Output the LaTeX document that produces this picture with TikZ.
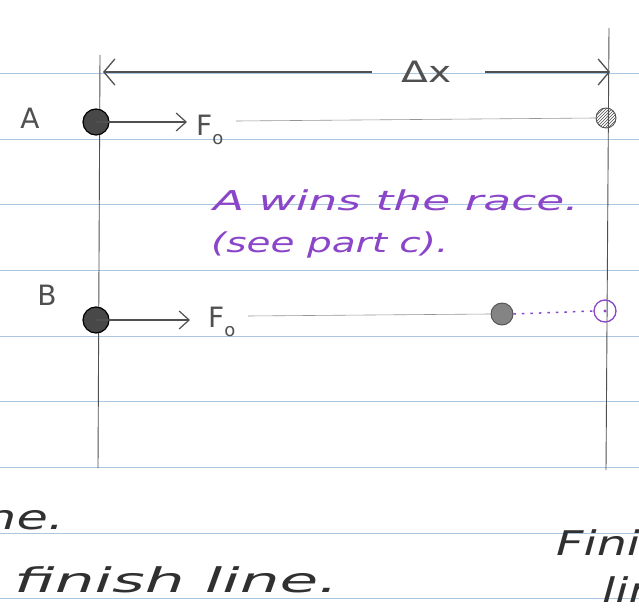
\documentclass[tikz,border=0pt]{standalone}
\usepackage{fontspec}
\setmainfont{DejaVu Sans}
\usetikzlibrary{arrows.meta,patterns}
\definecolor{ruled}{HTML}{A9C6E2}
\definecolor{pencil}{HTML}{505050}
\definecolor{ink}{HTML}{8A45C8}
\definecolor{hand}{HTML}{303030}
\tikzset{
  pen/.style={draw=pencil, line width=1.2pt},
  faint/.style={draw=pencil!60, line width=0.6pt},
  dotA/.style={circle, fill=pencil!90!black, draw=black, line width=1.2pt, minimum size=#1, inner sep=0pt},
  gdot/.style={circle, fill=pencil!70, draw=pencil, line width=0.9pt, minimum size=#1, inner sep=0pt},
  lbl/.style={text=pencil, inner sep=0pt, font=\fontsize{28}{30}\selectfont},
  purp/.style={text=ink, inner sep=0pt, anchor=west, font=\fontsize{26}{28}\selectfont\itshape},
  note/.style={text=hand, inner sep=0pt, anchor=west, font=\fontsize{34}{36}\selectfont\itshape},
  vec/.style={pen, -{Straight Barb[length=10pt,width=18pt,line width=1.2pt]}}
}
\begin{document}
\begin{tikzpicture}[x=1pt,y=-1pt]
\useasboundingbox (0,0) rectangle (639,607);
\fill[white] (0,0) rectangle (639,607);
% ruled lines
\foreach \yy in {73,139,204,270,336,401,467,533,598}
  \draw[ruled, line width=0.8pt] (0,\yy) -- (639,\yy);
% start and finish lines
\coordinate (s1) at (100,55); \coordinate (s2) at (98,468);
\coordinate (f1) at (609,28); \coordinate (f2) at (606,470);
\draw[pen, line width=0.9pt] (s1) -- (s2);
\draw[pen, line width=0.9pt] (f1) -- (f2);
% Delta x dimension
\node[lbl] (dx) at (427,72) {\scalebox{1.4}[1.05]{Δx}};
\coordinate (dl) at (103,72); \coordinate (dr) at (610,72);
\draw[pen, {Straight Barb[length=11pt,width=26pt,line width=1.3pt]}-] (dl) -- (372,72);
\draw[pen, -{Straight Barb[length=11pt,width=26pt,line width=1.3pt]}] (485,72) -- (dr);
% row A
\node[lbl] (la) at (30,118) {A};
\node[dotA=26pt] (a) at (96,122) {};
\coordinate (ah) at (187,122);
\draw[vec] (a.center) -- (ah);
\node[lbl, anchor=west] (fa) at (196,130) {F\raisebox{-0.35em}{\fontsize{18}{18}\selectfont o}};
\node[gdot=20pt, pattern=north east lines, pattern color=pencil] (afin) at (606,118) {};
\draw[faint] (236,121) -- (afin.west);
% purple note
\node[purp] (n1) at (213,200) {\scalebox{1.75}[1.05]{A wins the race.}};
\node[purp] (n2) at (211,245) {\scalebox{1.5}[1.05]{(see part c).}};
% row B
\node[lbl] (lb) at (47,295) {B};
\node[dotA=26pt] (b) at (96,320) {};
\coordinate (bh) at (190,320);
\draw[vec] (b.center) -- (bh);
\node[lbl, anchor=west] (fb) at (208,322) {F\raisebox{-0.35em}{\fontsize{18}{18}\selectfont o}};
\node[gdot=22pt] (bpos) at (502,314) {};
\draw[faint] (248,316) -- (bpos.west);
\node[circle, draw=ink, line width=1.3pt, minimum size=22pt, inner sep=0pt] (bfin) at (605,311) {};
\fill[ink] (bfin.center) circle (1.6pt);
\draw[ink, line width=1.5pt, dash pattern=on 2.5pt off 6pt] (bpos.east) -- (bfin.west);
% bottom handwriting
\node[note] (t1) at (-16,520) {\scalebox{1.5}[1]{ne.}};
\node[note] (t2) at (14,580) {\scalebox{1.85}[1]{finish line.}};
\node[note] (t3) at (556,543) {\scalebox{1.4}[1]{Finish}};
\node[note] (t4) at (602,590) {\scalebox{1.4}[1]{line}};
\end{tikzpicture}
\end{document}
